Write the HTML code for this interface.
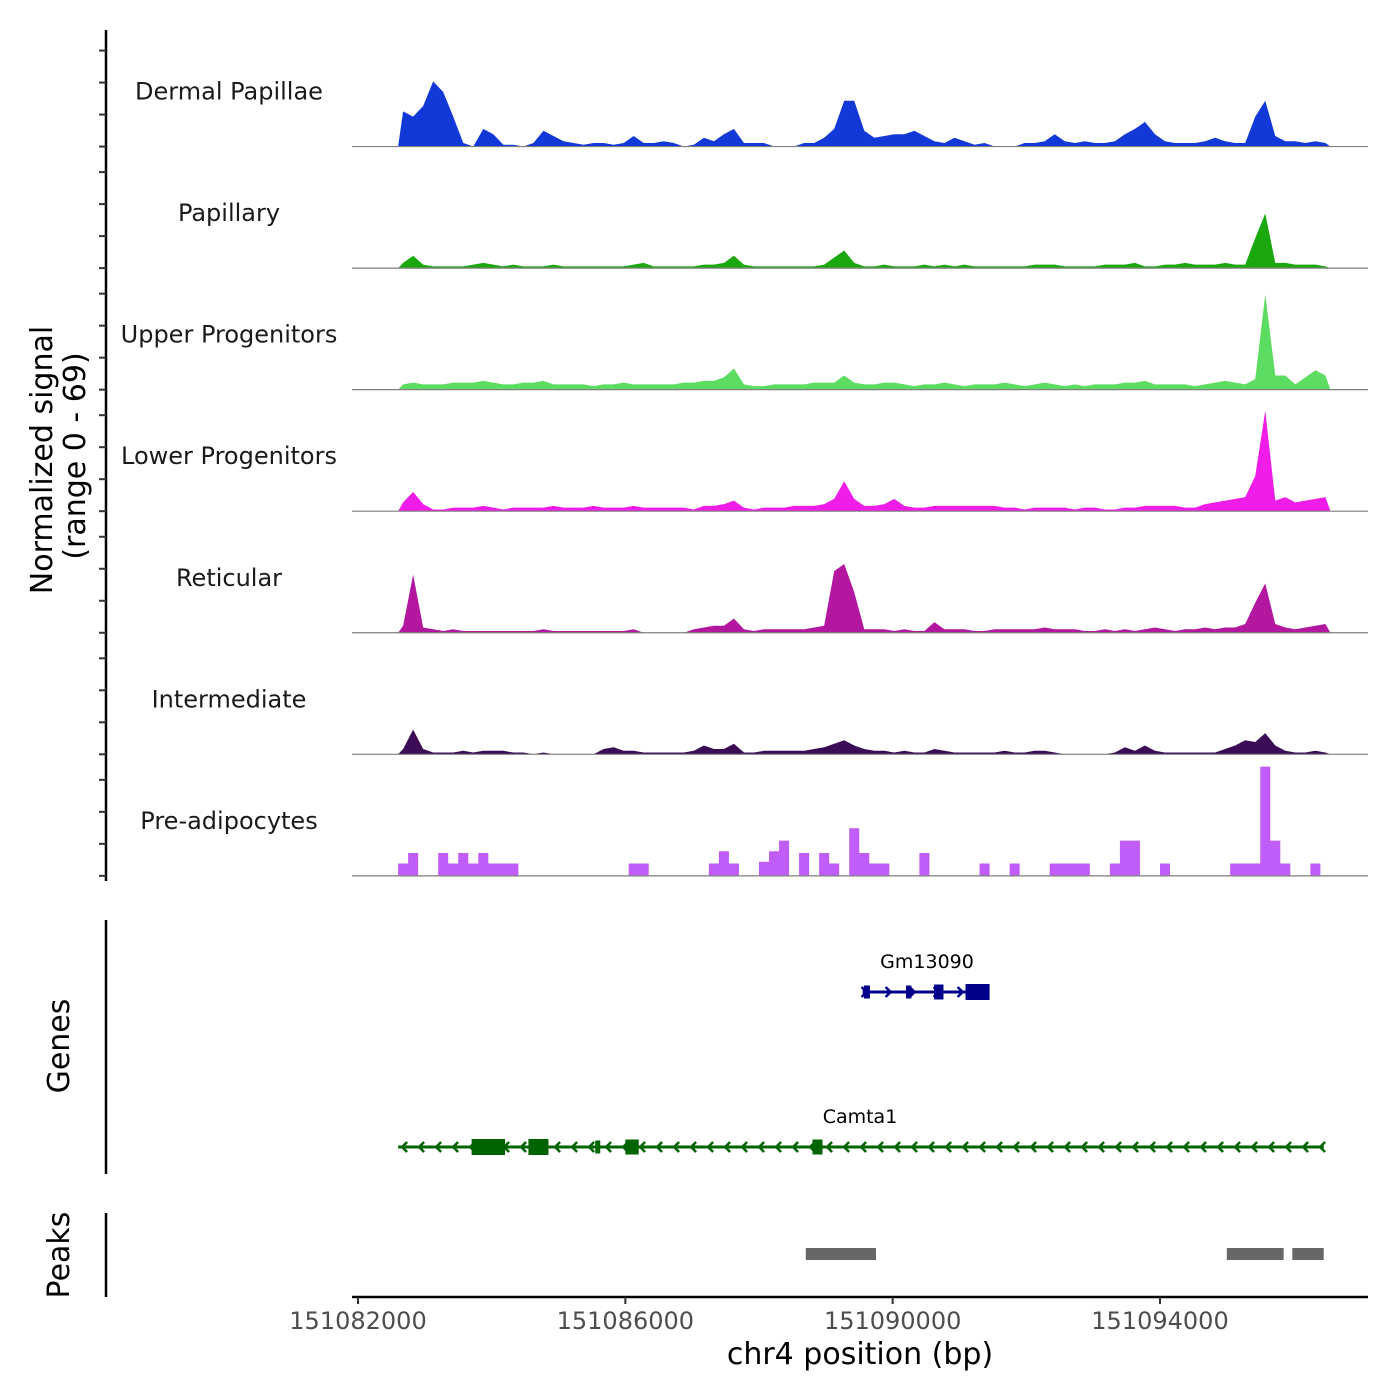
<!DOCTYPE html>
<html><head><meta charset="utf-8"><style>
html,body{margin:0;padding:0;background:#fff;}
svg{display:block;font-family:"DejaVu Sans","Liberation Sans",sans-serif;}
</style></head><body>
<svg id="chart" width="1400" height="1400" viewBox="0 0 1400 1400" xmlns="http://www.w3.org/2000/svg">
<g id="tracks"></g>
<g id="left"></g>
<g id="genes"></g>
<g id="peaks"></g>
<g id="xaxis"></g>
<text transform="translate(52,460) rotate(-90)" text-anchor="middle" font-size="30" fill="#000">Normalized signal</text>
<text transform="translate(85,456) rotate(-90)" text-anchor="middle" font-size="30" fill="#000">(range 0 - 69)</text>
<text transform="translate(69,1046) rotate(-90)" text-anchor="middle" font-size="30" fill="#000">Genes</text>
<text transform="translate(69,1255) rotate(-90)" text-anchor="middle" font-size="30" fill="#000">Peaks</text>
<text x="860" y="1364" text-anchor="middle" font-size="30" fill="#000">chr4 position (bp)</text>
</svg>
<script>
const trackNames = ["Dermal Papillae","Papillary","Upper Progenitors","Lower Progenitors","Reticular","Intermediate","Pre-adipocytes"];
const trackColors = ["#1338d8","#1aa80e","#5cdc60","#f01ce8","#b3169f","#3a0c55","#c05cf8"];
const binStart = 151082600;
const binSize = 150;
const sigDermal = [20,17,23,37,31,17,2,0,10,7,1,1,0,2,9,6,3,2,1,2,2,1,2,6,2,2,3,2,0,1,5,3,7,10,2,2,2,0,0,0,2,2,5,10,26,26,9,5,6,7,7,9,6,3,2,5,3,1,2,0,0,0,2,2,3,7,3,2,3,2,2,3,7,10,14,7,3,2,2,2,3,5,3,2,2,17,26,6,3,3,2,3,2];
const sigPapillary = [3,7,2,1,1,1,1,2,3,2,1,2,1,1,1,2,1,1,1,1,1,1,1,2,3,1,1,1,1,1,2,2,3,7,2,1,1,1,1,1,1,1,2,6,10,3,1,1,2,1,1,1,2,1,2,1,2,1,1,1,1,1,1,2,2,2,1,1,1,1,2,2,2,3,1,1,2,2,3,2,2,2,3,2,2,17,31,3,3,2,2,2,1];
const sigUpper = [3,4,3,3,3,4,4,4,5,4,3,3,4,4,5,3,3,3,3,2,3,3,4,3,3,3,3,3,4,4,5,5,7,12,3,2,2,3,3,3,3,4,4,4,8,4,3,3,4,4,3,2,3,3,4,3,2,3,3,3,4,3,2,3,4,3,2,3,2,3,3,3,4,4,5,3,3,3,3,2,3,4,5,4,3,6,54,8,8,3,7,11,8];
const sigLower = [5,11,4,1,1,2,2,2,3,2,1,2,2,2,2,3,2,2,2,3,2,2,2,3,2,2,2,2,2,1,3,3,4,6,2,1,2,2,2,3,3,3,4,7,17,7,3,3,4,7,3,2,2,3,3,3,3,3,3,3,2,2,1,2,2,2,2,1,2,2,1,1,2,2,3,3,3,3,2,2,4,5,6,7,8,20,57,6,8,5,6,7,8];
const sigReticular = [4,33,3,2,1,2,1,1,1,1,1,1,1,1,2,1,1,1,1,1,1,1,1,2,0,0,0,0,0,2,3,4,4,8,2,1,2,2,2,2,2,3,4,35,39,23,2,2,2,1,2,1,1,6,2,2,2,1,1,2,2,2,2,2,3,2,2,2,1,1,2,1,2,1,2,3,2,1,2,2,3,2,3,3,5,17,28,5,3,2,3,4,5];
const sigInter = [3,14,3,1,1,1,2,1,2,2,2,1,1,0,1,0,0,0,0,0,3,4,2,2,1,1,1,1,1,2,5,3,3,6,1,1,2,2,2,2,2,3,4,6,8,5,3,2,2,1,2,1,1,3,2,1,1,1,1,1,2,1,1,2,2,1,0,0,0,0,0,1,4,2,5,2,1,1,1,1,1,1,3,5,8,7,12,5,2,1,1,2,1];
const sigPreadipo = [7,13,0,0,13,7,13,7,13,7,7,7,0,0,0,0,0,0,0,0,0,0,0,7,7,0,0,0,0,0,0,7,14,7,0,0,8,14,20,0,13,0,13,7,0,27,13,7,7,0,0,0,13,0,0,0,0,0,7,0,0,7,0,0,0,7,7,7,7,0,0,7,20,20,0,0,7,0,0,0,0,0,0,7,7,7,62,20,7,0,0,7,0];
const signals = [sigDermal,sigPapillary,sigUpper,sigLower,sigReticular,sigInter,sigPreadipo];
const xTicks = [151082000,151086000,151090000,151094000];
const geneNames = ["Gm13090","Camta1"];
const geneStarts = [151089550,151082600];
const geneEnds = [151091450,151096450];
const geneStrands = [1,-1];
const gm13090Exons = [[151089570,151089660],[151090200,151090280],[151090620,151090760],[151091090,151091450]];
const camta1Exons = [[151083700,151084200],[151084550,151084850],[151085550,151085620],[151086000,151086200],[151088800,151088950]];
const peakStarts = [151088700,151095000,151095980];
const peakEnds = [151089750,151095850,151096450];

const NS="http://www.w3.org/2000/svg";
function el(tag,attrs,parent){const e=document.createElementNS(NS,tag);for(const k in attrs)e.setAttribute(k,attrs[k]);parent.appendChild(e);return e;}
const X0=151082000, PX0=358, PXPB=(1160-358)/12000;
function xs(bp){return PX0+(bp-X0)*PXPB;}
const trackTop=25, trackH=121.55, yMax=69;
function ys(t,v){return trackTop+trackH*(t+1)-v/yMax*trackH;}

const tg=document.getElementById('tracks');
for(let t=0;t<signals.length;t++){
  const base=ys(t,0);
  const lbl=el('text',{x:229,y:base-47,'text-anchor':'middle','font-size':24,fill:'#1a1a1a'},tg);
  lbl.textContent=trackNames[t];
  
  
  const s=signals[t];
  let d='M'+xs(binStart)+','+base;
  for(let i=0;i<s.length;i++){
    const a=xs(binStart+i*binSize), b=xs(binStart+(i+1)*binSize);
    if(t===6){d+=' L'+a+','+ys(t,s[i])+' L'+b+','+ys(t,s[i]);}
    else{const c=(a+b)/2;d+=' L'+c+','+ys(t,s[i]);}
  }
  d+=' L'+xs(binStart+s.length*binSize)+','+base+' Z';
  const p=el('path',{d:d,fill:trackColors[t]},tg);
  
  
  const bl=el('line',{x1:352,x2:1368,y1:base,y2:base,stroke:'#7f7f7f','stroke-width':1.2},tg);
  
  
}

const lg=document.getElementById('left');
const ax1=el('line',{x1:106,x2:106,y1:30,y2:881,stroke:'#000','stroke-width':2.5},lg);


for(let t=0;t<7;t++){for(let k=0;k<4;k++){
  const y=ys(t,0)-k*32;
  const tk=el('line',{x1:99,x2:106,y1:y,y2:y,stroke:'#333','stroke-width':2},lg);
  
  
}}
const ax2=el('line',{x1:106,x2:106,y1:920,y2:1174,stroke:'#000','stroke-width':2.5},lg);


const ax3=el('line',{x1:106,x2:106,y1:1213,y2:1297,stroke:'#000','stroke-width':2.5},lg);



const gg=document.getElementById('genes');
const geneY=[992,1147], geneCol=['#00008b','#006400'], exonSets=[gm13090Exons,camta1Exons];
for(let g=0;g<2;g++){
  const y=geneY[g], x1=xs(geneStarts[g]), x2=xs(geneEnds[g]);
  const ln=el('line',{x1:x1,x2:x2,y1:y,y2:y,stroke:geneCol[g],'stroke-width':3},gg);
  
  
  const step=g===0?24:17;
  for(let ax=x1+4;ax<x2;ax+=step){
    const dir=geneStrands[g];
    const ar=el('polyline',{points:(ax-5*dir)+','+(y-5)+' '+ax+','+y+' '+(ax-5*dir)+','+(y+5),fill:'none',stroke:geneCol[g],'stroke-width':2.5},gg);
    
    
  }
  for(const ex of exonSets[g]){
    const a=xs(ex[0]),b=xs(ex[1]);
    const big=(ex[1]-ex[0])>200;
    const h=big?16:(ex[1]-ex[0]<100?13:15);
    const r=el('rect',{x:a,y:y-h/2,width:Math.max(b-a,5),height:h,fill:geneCol[g]},gg);
    
    
  }
  const lbl=el('text',{x:g===0?927:860,y:y-24,'text-anchor':'middle','font-size':19,fill:'#000'},gg);
  lbl.textContent=geneNames[g];
  
  
}

const pg=document.getElementById('peaks');
for(let i=0;i<peakStarts.length;i++){
  const r=el('rect',{x:xs(peakStarts[i]),y:1248,width:xs(peakEnds[i])-xs(peakStarts[i]),height:12,fill:'#676767'},pg);
  
  
}

const xg=document.getElementById('xaxis');
const xl=el('line',{x1:352,x2:1368,y1:1297,y2:1297,stroke:'#000','stroke-width':2.5},xg);


for(const v of xTicks){
  const x=xs(v);
  const tk=el('line',{x1:x,x2:x,y1:1297,y2:1304,stroke:'#333','stroke-width':2},xg);
  
  
  const tl=el('text',{x:x,y:1329,'text-anchor':'middle','font-size':24,fill:'#4d4d4d'},xg);
  tl.textContent=String(v);
  
  
}
</script>
</body></html>
